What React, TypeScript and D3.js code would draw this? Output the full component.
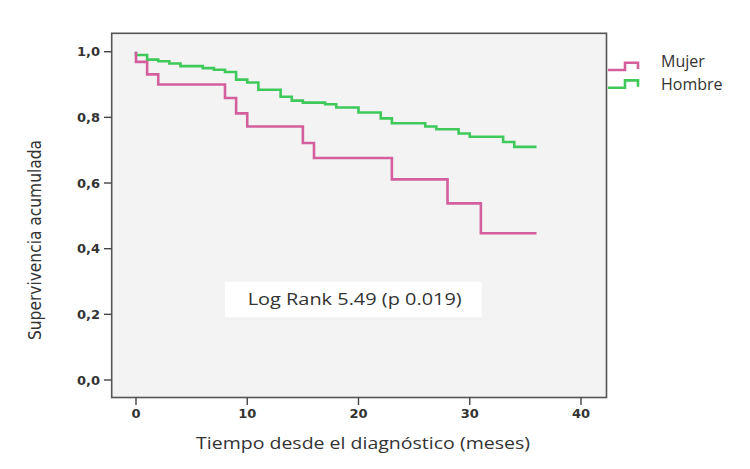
import React from "react";
import * as d3 from "d3";

// ---- Data ----
const mujerTime = [0, 0, 1, 2, 8, 9, 10, 15, 16, 23, 28, 31, 36];
const mujerSurv = [1.0, 0.969, 0.931, 0.9, 0.859, 0.812, 0.772, 0.722, 0.676, 0.611, 0.538, 0.447, 0.447];

const hombreTime = [0, 0, 1, 2, 3, 4, 6, 7, 8, 9, 10, 11, 13, 14, 15, 17, 18, 20, 22, 23, 26, 27, 29, 30, 33, 34, 36];
const hombreSurv = [
  1.0, 0.99, 0.976, 0.971, 0.964, 0.956, 0.95, 0.945, 0.938, 0.915, 0.906, 0.884, 0.863, 0.851, 0.845, 0.84,
  0.83, 0.815, 0.797, 0.782, 0.772, 0.764, 0.751, 0.741, 0.725, 0.71, 0.71,
];

const xTicks = [0, 10, 20, 30, 40];
const yTicks = [0, 0.2, 0.4, 0.6, 0.8, 1.0];
const yTickLabels = ["0,0", "0,2", "0,4", "0,6", "0,8", "1,0"];

const seriesNames = ["Mujer", "Hombre"];
const seriesColors = ["#d45f9d", "#3ec95a"];

const W = 750;
const H = 469;

export default function App() {
  const x = d3.scaleLinear().domain([0, 40]).range([136, 581]);
  const y = d3.scaleLinear().domain([0, 1]).range([380, 51.7]);

  const frame = { left: 111.7, right: 606.5, top: 33.3, bottom: 397.5 };

  const line = d3
    .line<[number, number]>()
    .x((d) => x(d[0]))
    .y((d) => y(d[1]))
    .curve(d3.curveStepAfter);

  const mujerPts: [number, number][] = mujerTime.map((t, i) => [t, mujerSurv[i]]);
  const hombrePts: [number, number][] = hombreTime.map((t, i) => [t, hombreSurv[i]]);

  const tickFont = "'DejaVu Sans', Verdana, sans-serif";
  const textFont = "'Open Sans', 'Noto Sans', sans-serif";

  return (
    <div style={{ position: "fixed", left: 0, top: 0 }}>
      <svg width={W} height={H} viewBox={`0 0 ${W} ${H}`} style={{ display: "block", background: "#fff" }}>
        <rect x={0} y={0} width={W} height={H} fill="#ffffff" />
        {/* plot frame */}
        <rect
          x={frame.left}
          y={frame.top}
          width={frame.right - frame.left}
          height={frame.bottom - frame.top}
          fill="#f3f3f3"
          stroke="#555"
          strokeWidth={1.6}
        />

        {/* y ticks */}
        {yTicks.map((v, i) => (
          <g key={"y" + i}>
            <line x1={104} x2={frame.left} y1={y(v)} y2={y(v)} stroke="#444" strokeWidth={1.4} />
            <text
              x={100}
              y={y(v)}
              dy="0.36em"
              textAnchor="end"
              fontFamily={tickFont}
              fontSize={13}
              fontWeight={700}
              fill="#333"
            >
              {yTickLabels[i]}
            </text>
          </g>
        ))}

        {/* x ticks */}
        {xTicks.map((v, i) => (
          <g key={"x" + i}>
            <line x1={x(v)} x2={x(v)} y1={frame.bottom} y2={405} stroke="#444" strokeWidth={1.4} />
            <text
              x={x(v)}
              y={413.5}
              dy="0.36em"
              textAnchor="middle"
              fontFamily={tickFont}
              fontSize={13}
              fontWeight={700}
              fill="#333"
            >
              {v}
            </text>
          </g>
        ))}

        {/* axis titles */}
        <text
          x={363}
          y={443}
          dy="0.35em"
          textAnchor="middle"
          fontFamily={textFont}
          fontSize={16}
          fill="#333"
          textLength={334}
          lengthAdjust="spacingAndGlyphs"
        >
          Tiempo desde el diagnóstico (meses)
        </text>
        <text
          transform={`translate(35,240) rotate(-90)`}
          dy="0.35em"
          textAnchor="middle"
          fontFamily="'Liberation Sans Narrow', 'DejaVu Sans Condensed', sans-serif"
          fontSize={17}
          fill="#333"
          textLength={200}
          lengthAdjust="spacingAndGlyphs"
        >
          Supervivencia acumulada
        </text>

        {/* annotation box */}
        <rect x={225} y={281.7} width={256.7} height={35.6} fill="#ffffff" />
        <text
          x={354.7}
          y={299.5}
          dy="0.35em"
          textAnchor="middle"
          fontFamily={textFont}
          fontSize={17}
          fill="#333"
          textLength={214}
          lengthAdjust="spacingAndGlyphs"
        >
          Log Rank 5.49 (p 0.019)
        </text>

        {/* survival curves */}
        <path d={line(hombrePts) || ""} fill="none" stroke={seriesColors[1]} strokeWidth={2.6} />
        <path d={line(mujerPts) || ""} fill="none" stroke={seriesColors[0]} strokeWidth={2.6} />

        {/* legend */}
        {seriesNames.map((name, i) => {
          const yl = 70 + i * 17.7;
          const yt = 61.5 + i * 22.5;
          return (
            <g key={name}>
              <path
                d={`M608,${yl} H625 V${yl - 7.3} H638 V${yl - 1}`}
                fill="none"
                stroke={seriesColors[i]}
                strokeWidth={2.6}
              />
              <text x={661} y={yt} dy="0.35em" fontFamily={textFont} fontSize={16} fill="#333">
                {name}
              </text>
            </g>
          );
        })}
      </svg>
    </div>
  );
}
